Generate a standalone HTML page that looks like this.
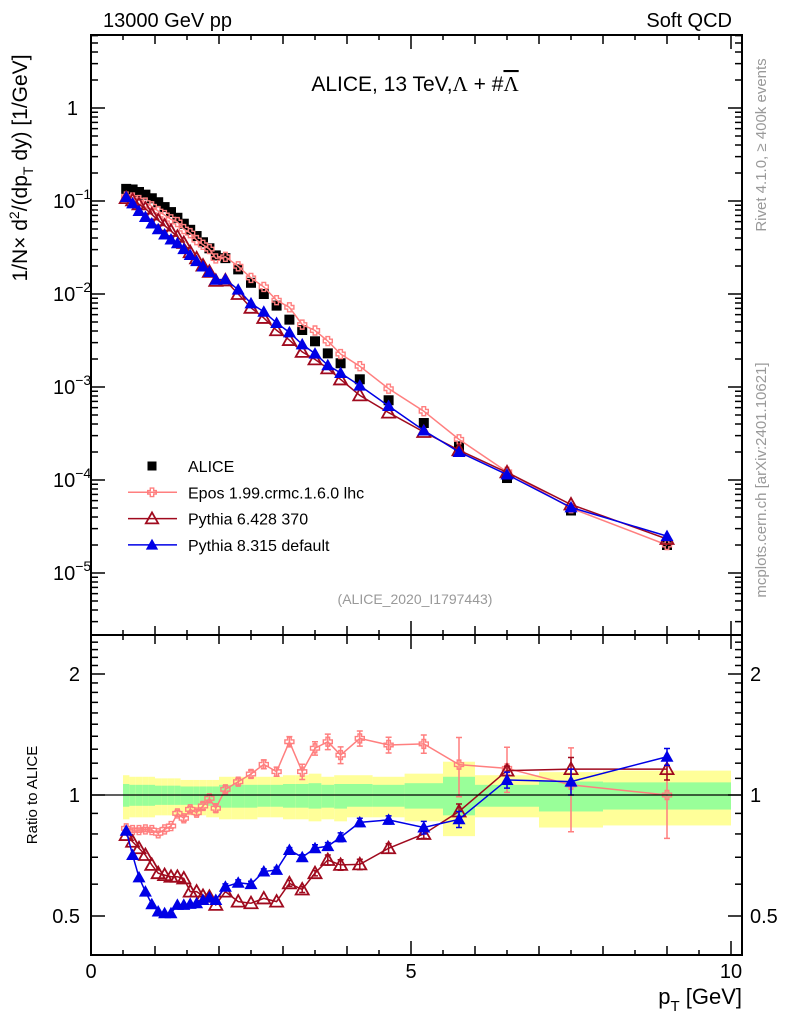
<!DOCTYPE html>
<html><head><meta charset="utf-8">
<style>
body{margin:0;background:#fff;}
svg{display:block;font-family:"Liberation Sans",sans-serif;}
</style></head>
<body>
<svg id="chart" width="786" height="1024" viewBox="0 0 786 1024" xmlns="http://www.w3.org/2000/svg">
<defs>
<clipPath id="cm"><rect x="91" y="35" width="651" height="600"/></clipPath>
<clipPath id="cr"><rect x="91" y="635" width="651" height="320"/></clipPath>
</defs>
<rect width="786" height="1024" fill="#fff"/>
<g id="bands" clip-path="url(#cr)"></g>
<g id="grid"></g>
<g id="series"></g>
<rect x="91" y="35" width="651" height="600" fill="none" stroke="#000" stroke-width="2"/>
<rect x="91" y="635" width="651" height="320" fill="none" stroke="#000" stroke-width="2"/>
<line x1="91" x2="742" y1="795" y2="795" stroke="#000" stroke-width="1.3"/>
<text x="103" y="27" font-size="20">13000 GeV pp</text>
<text x="732" y="27" font-size="20" text-anchor="end">Soft QCD</text>
<text x="415" y="91" font-size="21" text-anchor="middle">ALICE, 13 TeV,<tspan font-family="Liberation Serif">Λ</tspan> + #<tspan font-family="Liberation Serif" text-decoration="overline">Λ</tspan></text>
<text x="415" y="604" font-size="14" fill="#999" text-anchor="middle">(ALICE_2020_I1797443)</text>
<text transform="translate(766,145) rotate(-90)" font-size="15" fill="#999" text-anchor="middle">Rivet 4.1.0, ≥ 400k events</text>
<text transform="translate(766,480) rotate(-90)" font-size="15" fill="#999" text-anchor="middle">mcplots.cern.ch [arXiv:2401.10621]</text>
<text transform="translate(27,168) rotate(-90)" font-size="21" text-anchor="middle">1/N<tspan>×</tspan> d<tspan dy="-8" font-size="14">2</tspan><tspan dy="8">/(dp</tspan><tspan dy="6" font-size="14">T</tspan><tspan dy="-6"> dy) [1/GeV]</tspan></text>
<text transform="translate(37,795) rotate(-90)" font-size="15" text-anchor="middle">Ratio to ALICE</text>
<text x="742" y="1004" font-size="22" text-anchor="end">p<tspan dy="7" font-size="15">T</tspan><tspan dy="-7"> [GeV]</tspan></text>
<g id="legend"></g>
</svg>
<script>
const binCenters=[0.55,0.65,0.75,0.85,0.95,1.05,1.15,1.25,1.35,1.45,1.55,1.65,1.75,1.85,1.95,2.1,2.3,2.5,2.7,2.9,3.1,3.3,3.5,3.7,3.9,4.2,4.65,5.2,5.75,6.5,7.5,9.0];
const binEdges=[0.5,0.6,0.7,0.8,0.9,1.0,1.1,1.2,1.3,1.4,1.5,1.6,1.7,1.8,1.9,2.0,2.2,2.4,2.6,2.8,3.0,3.2,3.4,3.6,3.8,4.0,4.4,4.9,5.5,6.0,7.0,8.0,10.0];
const aliceValues=[0.135,0.133,0.125,0.117,0.107,0.097,0.086,0.076,0.066,0.057,0.049,0.042,0.036,0.031,0.026,0.0243,0.0184,0.0132,0.0100,0.0075,0.0053,0.0041,0.0031,0.0023,0.0018,0.00121,0.00072,0.00041,0.00023,0.000105,0.000047,0.000020];
const bandYellowUp=[1.12,1.11,1.11,1.11,1.11,1.10,1.10,1.10,1.10,1.09,1.09,1.09,1.09,1.09,1.09,1.11,1.11,1.11,1.11,1.11,1.12,1.12,1.13,1.11,1.12,1.12,1.11,1.13,1.21,1.12,1.14,1.15];
const bandYellowDn=[0.87,0.88,0.88,0.88,0.88,0.89,0.89,0.89,0.89,0.89,0.89,0.89,0.89,0.88,0.88,0.87,0.87,0.87,0.88,0.88,0.87,0.87,0.86,0.87,0.86,0.88,0.88,0.86,0.79,0.88,0.83,0.84];
const bandGreenUp=[1.065,1.06,1.06,1.06,1.06,1.055,1.055,1.055,1.055,1.05,1.05,1.05,1.05,1.05,1.05,1.06,1.06,1.06,1.06,1.06,1.065,1.065,1.07,1.06,1.065,1.065,1.06,1.07,1.11,1.06,1.08,1.075];
const bandGreenDn=[0.935,0.94,0.94,0.94,0.94,0.945,0.945,0.945,0.945,0.945,0.945,0.945,0.945,0.94,0.94,0.93,0.93,0.93,0.935,0.935,0.93,0.93,0.925,0.93,0.925,0.935,0.935,0.925,0.89,0.935,0.91,0.92];
const eposRatio=[0.826,0.818,0.818,0.821,0.818,0.803,0.821,0.837,0.90,0.875,0.921,0.904,0.939,0.981,0.927,1.033,1.079,1.128,1.192,1.143,1.357,1.143,1.307,1.357,1.257,1.383,1.332,1.34,1.19,1.165,1.06,1.0];
const eposErr=[0.01,0.01,0.01,0.01,0.01,0.01,0.01,0.01,0.015,0.015,0.015,0.015,0.02,0.02,0.02,0.02,0.02,0.025,0.03,0.03,0.04,0.05,0.05,0.06,0.06,0.06,0.06,0.07,0.2,0.15,0.25,0.22];
const py6Ratio=[0.795,0.765,0.737,0.709,0.670,0.639,0.632,0.626,0.626,0.620,0.575,0.575,0.561,0.558,0.533,0.575,0.543,0.538,0.553,0.543,0.603,0.582,0.639,0.689,0.670,0.672,0.737,0.80,0.91,1.15,1.16,1.16];
const py6Err=[0.005,0.005,0.005,0.005,0.005,0.005,0.005,0.005,0.005,0.005,0.005,0.005,0.005,0.005,0.005,0.005,0.005,0.005,0.005,0.005,0.01,0.01,0.01,0.02,0.02,0.02,0.02,0.02,0.04,0.03,0.08,0.07];
const py8Ratio=[0.815,0.709,0.624,0.575,0.535,0.513,0.508,0.508,0.533,0.533,0.536,0.538,0.548,0.556,0.548,0.591,0.605,0.600,0.645,0.651,0.730,0.700,0.737,0.746,0.785,0.855,0.867,0.83,0.87,1.09,1.08,1.245];
const py8Err=[0.005,0.005,0.005,0.005,0.005,0.005,0.005,0.005,0.005,0.005,0.005,0.005,0.005,0.005,0.005,0.01,0.01,0.01,0.01,0.01,0.01,0.01,0.015,0.015,0.02,0.02,0.02,0.03,0.04,0.05,0.08,0.06];
const xTickLabels=["0","5","10"];
const xTickValues=[0,5,10];
const mainTickLabels=[["1",""],["10","−1"],["10","−2"],["10","−3"],["10","−4"],["10","−5"]];
const mainTickExps=[0,-1,-2,-3,-4,-5];
const ratioTickLabels=["2","1","0.5"];
const ratioTickValues=[2,1,0.5];

const NS="http://www.w3.org/2000/svg";
const X=v=>91+64*v;
const YM=v=>108-93*Math.log10(v);
const YR=r=>795-121*Math.log2(r);
function mk(tag,attrs,parent){const e=document.createElementNS(NS,tag);for(const k in attrs)e.setAttribute(k,attrs[k]);parent.appendChild(e);return e;}
const bands=document.getElementById('bands'),grid=document.getElementById('grid'),series=document.getElementById('series'),legend=document.getElementById('legend');

for(let i=0;i<binCenters.length;i++){
  const x0=X(binEdges[i]),x1=X(binEdges[i+1]);
  const y=mk('rect',{x:x0,y:YR(bandYellowUp[i]),width:x1-x0,height:YR(bandYellowDn[i])-YR(bandYellowUp[i]),fill:'#ffff99'},bands);
  
  
  const g=mk('rect',{x:x0,y:YR(bandGreenUp[i]),width:x1-x0,height:YR(bandGreenDn[i])-YR(bandGreenUp[i]),fill:'#99ff99'},bands);
  
  
}
for(let k=0;k<=20;k++){
  const v=k*0.5;const len=(k%10===0)?14:(k%2===0?9:5);
  [[35,1],[635,-1],[635,1],[955,-1]].forEach(([y0,d])=>{
    const t=mk('line',{x1:X(v),x2:X(v),y1:y0,y2:y0+d*len,stroke:'#000','stroke-width':1.5},grid);
    
    
  });
}
xTickValues.forEach((v,i)=>{
  const t=mk('text',{x:X(v),y:978,'font-size':20,'text-anchor':'middle'},grid);t.textContent=xTickLabels[i];
  
  
});
for(let e=-6;e<=0;e++){
  for(let m=1;m<=9;m++){
    const v=m*Math.pow(10,e);const y=YM(v);if(y<35||y>635)continue;
    const len=m===1?14:7;
    [[91,1],[742,-1]].forEach(([x0,d])=>{
      const t=mk('line',{x1:x0,x2:x0+d*len,y1:y,y2:y,stroke:'#000','stroke-width':1.5},grid);
      
      
    });
  }
}
mainTickExps.forEach((e,i)=>{
  const y=YM(Math.pow(10,e));const lab=mainTickLabels[i];
  const t=mk('text',{x:78,y:y+7,'font-size':20,'text-anchor':'end'},grid);
  
  
  if(lab[1]){t.setAttribute('x',53);t.setAttribute('text-anchor','start');
    t.textContent=lab[0];const s=document.createElementNS(NS,'tspan');s.setAttribute('dy','-9');s.setAttribute('font-size','14');s.textContent=lab[1];t.appendChild(s);}
  else t.textContent=lab[0];
});
const rt=[0.4,0.5,0.6,0.7,0.8,0.9,1,1.1,1.2,1.3,1.4,1.5,1.6,1.7,1.8,1.9,2,2.1,2.2,2.3,2.4,2.5];
rt.forEach(r=>{const y=YR(r);if(y<636||y>954)return;const len=(r===0.5||r===1||r===2)?14:7;
  [[91,1],[742,-1]].forEach(([x0,d])=>{
    const t=mk('line',{x1:x0,x2:x0+d*len,y1:y,y2:y,stroke:'#000','stroke-width':1.5},grid);
    
    
  });
});
ratioTickValues.forEach((v,i)=>{
  const y=YR(v)+7;
  const a=mk('text',{x:80,y:y,'font-size':20,'text-anchor':'end'},grid);a.textContent=ratioTickLabels[i];
  
  
  const b=mk('text',{x:750,y:y,'font-size':20},grid);b.textContent=ratioTickLabels[i];
  
  
});

function marker(type,cx,cy,color,parent,s){
  s=s||1;
  if(type==='square')return mk('rect',{x:cx-5*s,y:cy-5*s,width:10*s,height:10*s,fill:'#000'},parent);
  if(type==='tri-open')return mk('polygon',{points:`${cx},${cy-6.5*s} ${cx-6.5*s},${cy+5*s} ${cx+6.5*s},${cy+5*s}`,fill:'none',stroke:color,'stroke-width':1.8},parent);
  if(type==='tri-full')return mk('polygon',{points:`${cx},${cy-6.5*s} ${cx-6.5*s},${cy+5*s} ${cx+6.5*s},${cy+5*s}`,fill:color},parent);
  if(type==='cross'){const a=1.8*s,b=4.5*s;
    return mk('polygon',{points:`${cx-a},${cy-b} ${cx+a},${cy-b} ${cx+a},${cy-a} ${cx+b},${cy-a} ${cx+b},${cy+a} ${cx+a},${cy+a} ${cx+a},${cy+b} ${cx-a},${cy+b} ${cx-a},${cy+a} ${cx-b},${cy+a} ${cx-b},${cy-a} ${cx-a},${cy-a}`,fill:'none',stroke:color,'stroke-width':1.4},parent);}
}
const mcs=[
 {name:'epos',ratio:eposRatio,err:eposErr,color:'#ff7f7f',type:'cross'},
 {name:'pythia6',ratio:py6Ratio,err:py6Err,color:'#a00a1e',type:'tri-open'},
 {name:'pythia8',ratio:py8Ratio,err:py8Err,color:'#0000e6',type:'tri-full'}
];
const gm=mk('g',{'clip-path':'url(#cm)'},series);
const gr=mk('g',{'clip-path':'url(#cr)'},series);
binCenters.forEach((x,i)=>{
  const m=marker('square',X(x),YM(aliceValues[i]),'#000',gm);
  
  
});
mcs.forEach(s=>{
  const mainPts=binCenters.map((x,i)=>X(x)+','+YM(aliceValues[i]*s.ratio[i])).join(' ');
  const l=mk('polyline',{points:mainPts,fill:'none',stroke:s.color,'stroke-width':1.5},gm);
  
  
  const rPts=binCenters.map((x,i)=>X(x)+','+YR(s.ratio[i])).join(' ');
  const l2=mk('polyline',{points:rPts,fill:'none',stroke:s.color,'stroke-width':1.5},gr);
  
  
  binCenters.forEach((x,i)=>{
    const cx=X(x);
    const m=marker(s.type,cx,YM(aliceValues[i]*s.ratio[i]),s.color,gm);
    
    
    const yt=YR(s.ratio[i]+s.err[i]),yb=YR(s.ratio[i]-s.err[i]);
    if(yb-yt>4){
      const e=mk('path',{d:`M${cx},${yt}V${yb}M${cx-3},${yt}H${cx+3}M${cx-3},${yb}H${cx+3}`,stroke:s.color,'stroke-width':1.5,fill:'none'},gr);
      
      
    }
    const m2=marker(s.type,cx,YR(s.ratio[i]),s.color,gr);
    
    
  });
});
const legItems=[['ALICE','square','#000','alice'],['Epos 1.99.crmc.1.6.0 lhc','cross','#ff7f7f','epos'],['Pythia 6.428 370','tri-open','#a00a1e','pythia6'],['Pythia 8.315 default','tri-full','#0000e6','pythia8']];
legItems.forEach((it,i)=>{
  const y=466+i*26.3;
  const g=mk('g',{},legend);
  
  
  if(i>0)mk('line',{x1:128,x2:177,y1:y,y2:y,stroke:it[2],'stroke-width':1.5},g);
  marker(it[1],152,y,it[2],g,i===0?0.9:0.95);
  const t=mk('text',{x:188,y:y+6,'font-size':16},g);t.textContent=it[0];
});
</script>
</body></html>
